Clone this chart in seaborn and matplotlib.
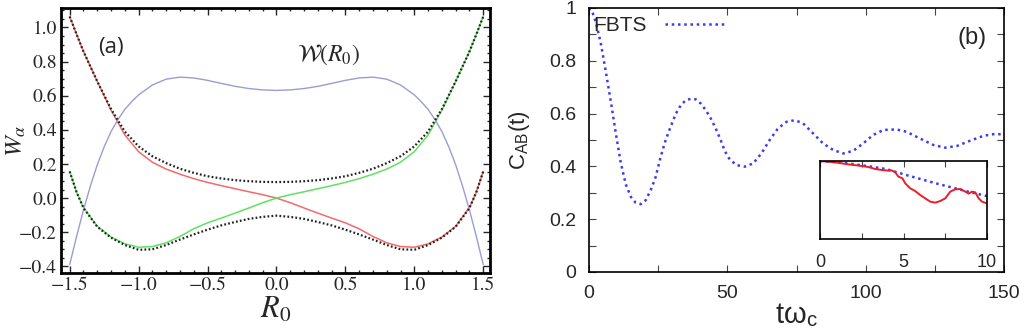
import matplotlib

matplotlib.use("Agg")
import matplotlib.pyplot as plt
import seaborn as sns
from matplotlib.ticker import MultipleLocator


# ---- panel (a): potential curves vs R0 ----
R0 = [-1.5, -1.45, -1.4, -1.3, -1.2, -1.1, -1.0, -0.9, -0.8, -0.7, -0.6, -0.5,
      -0.4, -0.3, -0.2, -0.1, 0.0, 0.1, 0.2, 0.3, 0.4, 0.5,
      0.6, 0.7, 0.8, 0.9, 1.0, 1.1, 1.2, 1.3, 1.4, 1.45, 1.5]
W_RED = [1.064, 0.96, 0.859, 0.684, 0.515, 0.37, 0.272, 0.21, 0.17, 0.14, 0.114, 0.092,
         0.073, 0.055, 0.037, 0.02, 0.0, -0.027, -0.058, -0.088, -0.117, -0.145,
         -0.18, -0.225, -0.262, -0.284, -0.288, -0.268, -0.228, -0.165, -0.055, 0.035, 0.156]
W_GREEN = [0.156, 0.035, -0.055, -0.165, -0.228, -0.268, -0.288, -0.284, -0.262, -0.225, -0.18, -0.145,
           -0.117, -0.088, -0.058, -0.027, 0.0, 0.02, 0.037, 0.055, 0.073, 0.092,
           0.114, 0.14, 0.17, 0.21, 0.272, 0.37, 0.515, 0.684, 0.859, 0.96, 1.064]
W_UPPER = [1.064, 0.96, 0.859, 0.684, 0.522, 0.39, 0.303, 0.245, 0.205, 0.172, 0.148, 0.128,
           0.115, 0.105, 0.099, 0.095, 0.094, 0.095, 0.099, 0.105, 0.115, 0.128,
           0.148, 0.172, 0.205, 0.245, 0.303, 0.39, 0.522, 0.684, 0.859, 0.96, 1.064]
W_LOWER = [0.156, 0.035, -0.058, -0.168, -0.232, -0.275, -0.303, -0.3, -0.275, -0.243, -0.213, -0.185,
           -0.16, -0.14, -0.122, -0.11, -0.103, -0.11, -0.122, -0.14, -0.16, -0.185,
           -0.213, -0.243, -0.275, -0.3, -0.303, -0.275, -0.232, -0.168, -0.058, 0.035, 0.156]

R0_COUPLING = [-1.5, -1.45, -1.4, -1.35, -1.3, -1.25, -1.2, -1.15, -1.1, -1.05, -1.0,
               -0.9, -0.8, -0.7, -0.6, -0.5, -0.4, -0.3, -0.2, -0.1, 0.0,
               0.1, 0.2, 0.3, 0.4, 0.5, 0.6, 0.7, 0.8, 0.9,
               1.0, 1.05, 1.1, 1.15, 1.2, 1.25, 1.3, 1.35, 1.4, 1.45, 1.5]
W_COUPLING = [-0.39, -0.225, -0.07, 0.07, 0.195, 0.3, 0.39, 0.46, 0.52, 0.565, 0.605,
              0.663, 0.697, 0.709, 0.704, 0.69, 0.672, 0.655, 0.642, 0.634, 0.631,
              0.634, 0.642, 0.655, 0.672, 0.69, 0.704, 0.709, 0.697, 0.663,
              0.605, 0.565, 0.52, 0.46, 0.39, 0.3, 0.195, 0.07, -0.07, -0.225, -0.39]

R_TICKS = [-1.5, -1.0, -0.5, 0.0, 0.5, 1.0, 1.5]
R_TICK_LABELS = ["\u22121.5", "\u22121.0", "\u22120.5", "0.0", "0.5", "1.0", "1.5"]
W_TICKS = [-0.4, -0.2, 0.0, 0.2, 0.4, 0.6, 0.8, 1.0]
W_TICK_LABELS = ["\u22120.4", "\u22120.2", "0.0", "0.2", "0.4", "0.6", "0.8", "1.0"]

# ---- panel (b): FBTS correlation function ----
T_FBTS = [0, 1.0, 2.5, 4.2, 5.9, 7.9, 9.7, 11.5, 13.3, 15.1, 16.9, 18.7, 20.5, 22.3,
          24.1, 25.9, 27.7, 29.5, 31.4, 33.2, 35.0, 36.8, 38.6, 40.4, 42.2, 44.0,
          45.8, 47.5, 49.1, 50.9, 53.3, 56.3, 59.3, 62.3, 65.3, 68.3, 71.4, 74.4,
          77.4, 81.0, 84.6, 88.3, 91.9, 95.5, 99.1, 102.7, 106.4, 111.2, 114.8,
          119.6, 124.5, 128.7, 132.9, 137.7, 142.6, 146.2, 150]
C_FBTS = [1.0, 0.992, 0.945, 0.87, 0.77, 0.645, 0.525, 0.413, 0.332, 0.285, 0.262, 0.257,
          0.272, 0.31, 0.36, 0.436, 0.5, 0.55, 0.6, 0.632, 0.651, 0.656, 0.654, 0.638,
          0.613, 0.582, 0.544, 0.502, 0.458, 0.426, 0.405, 0.399, 0.411, 0.449, 0.5,
          0.544, 0.569, 0.575, 0.563, 0.525, 0.487, 0.462, 0.449, 0.459, 0.487, 0.519,
          0.538, 0.54, 0.531, 0.506, 0.481, 0.471, 0.477, 0.497, 0.516, 0.522, 0.522]

# ---- inset: short-time comparison ----
T_INSET_BLUE = [0, 1, 2, 3, 4, 5, 6, 7, 8, 9, 10]
C_INSET_BLUE = [1.0, 0.985, 0.96, 0.93, 0.895, 0.83, 0.77, 0.71, 0.655, 0.6, 0.55]
T_INSET_RED = [0, 0.9, 1.7, 2.5, 2.9, 3.3, 3.7, 4.1, 4.3, 4.5, 4.7, 4.94, 5.1, 5.4,
               5.7, 6.0, 6.3, 6.6, 6.9, 7.2, 7.5, 7.8, 8.1, 8.4, 8.7, 8.9, 9.1,
               9.3, 9.5, 9.7, 10.0]
C_INSET_RED = [1.0, 0.983, 0.957, 0.936, 0.923, 0.898, 0.885, 0.876, 0.88, 0.855,
               0.799, 0.778, 0.714, 0.65, 0.615, 0.564, 0.521, 0.479, 0.466, 0.487,
               0.521, 0.607, 0.637, 0.641, 0.607, 0.581, 0.607, 0.598, 0.521, 0.479,
               0.457]

C_TICKS = [0, 0.2, 0.4, 0.6, 0.8, 1.0]
C_TICK_LABELS = ["0", "0.2", "0.4", "0.6", "0.8", "1"]
T_TICKS = [0, 50, 100, 150]
INSET_TICKS = [0, 5, 10]

RED = "#f26a6a"
GREEN = "#62e062"
LAVENDER = "#9c9cd4"
FBTS_BLUE = "#3b3bf0"
DOTTED = (0, (1, 1.5))
SERIF = "STIXGeneral"


def style_panel_a(ax):
    ax.set_xlim(-1.563, 1.549)
    ax.set_ylim(-0.439, 1.114)
    ax.set_xticks(R_TICKS, R_TICK_LABELS, fontfamily=SERIF, fontsize=14)
    ax.set_yticks(W_TICKS, W_TICK_LABELS, fontfamily=SERIF, fontsize=14)
    ax.xaxis.set_minor_locator(MultipleLocator(0.1))
    ax.yaxis.set_minor_locator(MultipleLocator(0.05))
    ax.tick_params(which="both", direction="in", top=True, right=True, width=1)
    ax.tick_params(which="major", length=5, pad=3)
    ax.tick_params(which="minor", length=2.5)
    for sp in ax.spines.values():
        sp.set_linewidth(2)
        sp.set_color("black")
    ax.set_xlabel("$R_0$", fontsize=22, labelpad=0)
    ax.set_ylabel(r"$W_\alpha$", fontsize=18)
    ax.yaxis.set_label_coords(-0.078, 0.5)
    ax.text(-1.2, 0.88, "(a)", fontsize=16, ha="center", va="center",
            family=["Open Sans", "DejaVu Sans"])
    ax.text(0.38, 0.84, r"$\mathcal{W}(R_0)$", fontsize=17, ha="center", va="center")


def style_panel_b(ax):
    ax.set_xlim(0, 150)
    ax.set_ylim(0, 1)
    ax.set_xticks(T_TICKS)
    ax.set_yticks(C_TICKS)
    ax.set_yticklabels(C_TICK_LABELS)
    ax.xaxis.set_minor_locator(MultipleLocator(25))
    ax.yaxis.set_minor_locator(MultipleLocator(0.1))
    ax.tick_params(which="both", direction="in", top=True, right=True,
                   length=5, width=0.8, color="#444444", labelsize=14)
    ax.tick_params(axis="x", pad=9)
    ax.tick_params(axis="y", pad=9)
    for sp in ax.spines.values():
        sp.set_linewidth(1.2)
        sp.set_color("black")
    ax.set_xlabel(r"tω$_\mathregular{c}$", fontsize=21, labelpad=0)
    ax.set_ylabel(r"C$_\mathregular{AB}$(t)", fontsize=16)
    ax.yaxis.set_label_coords(-0.137, 0.5)
    ax.text(138.4, 0.886, "(b)", fontsize=17, ha="center", va="center")
    ax.legend(loc="upper left", bbox_to_anchor=(0.0, 0.985), frameon=False,
              markerfirst=False, handlelength=2.8, handletextpad=0.9,
              fontsize=15, borderaxespad=0.1, borderpad=0.1)


def main():
    sns.set_style("ticks")
    plt.rcParams["font.family"] = ["Liberation Sans", "DejaVu Sans"]
    plt.rcParams["mathtext.fontset"] = "stix"

    fig = plt.figure(figsize=(10.24, 3.29), dpi=100)
    ax_a = fig.add_axes([61 / 1024, 56 / 329, 429 / 1024, 265 / 329])
    ax_b = fig.add_axes([589 / 1024, 57 / 329, 415 / 1024, 264 / 329])

    sns.lineplot(x=R0, y=W_RED, ax=ax_a, color=RED, linewidth=1.1, sort=False)
    sns.lineplot(x=R0, y=W_GREEN, ax=ax_a, color=GREEN, linewidth=1.1, sort=False)
    sns.lineplot(x=R0_COUPLING, y=W_COUPLING, ax=ax_a, color=LAVENDER,
                 linewidth=1.0, sort=False)
    sns.lineplot(x=R0, y=W_UPPER, ax=ax_a, color="#222222", linewidth=1.6,
                 linestyle=(0, (0.8, 1.0)), sort=False)
    sns.lineplot(x=R0, y=W_LOWER, ax=ax_a, color="#222222", linewidth=1.6,
                 linestyle=(0, (0.8, 1.0)), sort=False)
    style_panel_a(ax_a)

    sns.lineplot(x=T_FBTS, y=C_FBTS, ax=ax_b, color=FBTS_BLUE, linewidth=1.8,
                 linestyle=DOTTED, sort=False, label="FBTS")
    style_panel_b(ax_b)

    ax_in = fig.add_axes([820 / 1024, 90 / 329, 167 / 1024, 78 / 329])
    sns.lineplot(x=T_INSET_BLUE, y=C_INSET_BLUE, ax=ax_in, color=FBTS_BLUE,
                 linewidth=1.8, linestyle=DOTTED, sort=False)
    sns.lineplot(x=T_INSET_RED, y=C_INSET_RED, ax=ax_in, color="#ee1c24",
                 linewidth=1.4, sort=False)
    ax_in.set_xlim(0, 10)
    ax_in.set_ylim(0, 1)
    ax_in.set_xticks(INSET_TICKS)
    ax_in.set_yticks([])
    ax_in.xaxis.set_minor_locator(MultipleLocator(2.5))
    ax_in.tick_params(which="both", axis="x", direction="in", top=True,
                      length=4, width=0.8, color="#444444", labelsize=13, pad=11)
    for sp in ax_in.spines.values():
        sp.set_linewidth(1.2)
        sp.set_color("black")

    fig.savefig("out.png", dpi=100)
    plt.close(fig)


if __name__ == "__main__":
    main()
